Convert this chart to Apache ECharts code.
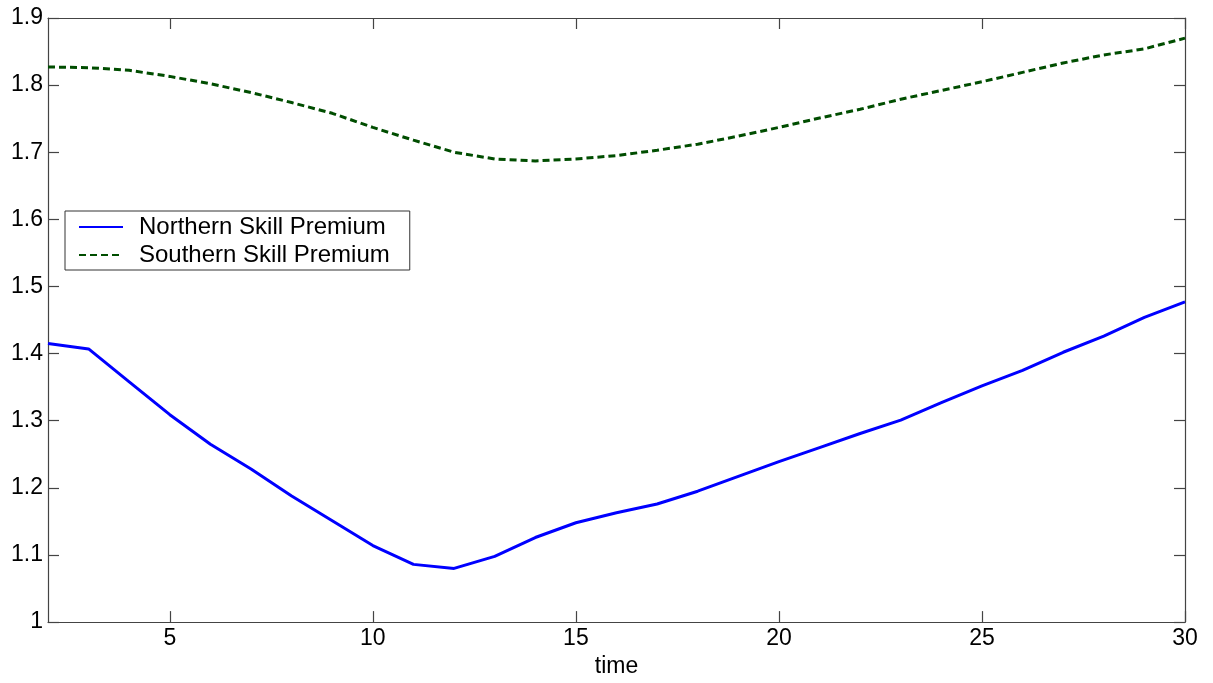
<!DOCTYPE html>
<html><head><meta charset="utf-8">
<script src="https://cdn.jsdelivr.net/npm/echarts@6/dist/echarts.min.js"></script>
<style>html,body{margin:0;padding:0;background:#fff}#c{width:1213px;height:683px}</style>
</head><body><div id="c"></div>
<script>
const times = [2,3,4,5,6,7,8,9,10,11,12,13,14,15,16,17,18,19,20,21,22,23,24,25,26,27,28,29,30];
const northern = [1.415,1.407,1.358,1.309,1.265,1.228,1.188,1.151,1.114,1.086,1.080,1.098,1.126,1.148,1.163,1.176,1.195,1.217,1.239,1.260,1.281,1.301,1.327,1.352,1.375,1.402,1.426,1.454,1.477];
const southern = [1.827,1.826,1.822,1.813,1.802,1.789,1.774,1.758,1.737,1.718,1.700,1.690,1.687,1.690,1.695,1.703,1.712,1.724,1.737,1.751,1.764,1.779,1.792,1.805,1.819,1.833,1.845,1.854,1.870];
const xTicks = [5,10,15,20,25,30];
const seriesNames = ['Northern Skill Premium','Southern Skill Premium'];
const xLabel = 'time';

const font = 'Liberation Sans, Arial, sans-serif';
const axisColor = '#444';
const chart = echarts.init(document.getElementById('c'));
const lineCommon = {show:true, lineStyle:{color:axisColor, width:1.2}};
const tickCommon = {show:true, inside:true, length:11, lineStyle:{color:axisColor, width:1.2}};
chart.setOption({
  animation:false,
  backgroundColor:'#fff',
  grid:{left:48, right:28, top:18, bottom:56, containLabel:false},
  xAxis:[
    {type:'value', min:2, max:30, position:'bottom',
      axisLine:lineCommon,
      axisTick:Object.assign({customValues:xTicks}, tickCommon),
      axisLabel:{show:true, customValues:xTicks, color:'#000', fontSize:23, fontFamily:font, margin:5},
      splitLine:{show:false},
      name:xLabel, nameLocation:'middle', nameGap:31,
      nameTextStyle:{color:'#000', fontSize:23, fontFamily:font}},
    {type:'value', min:2, max:30, position:'top',
      axisLine:lineCommon,
      axisTick:Object.assign({customValues:xTicks}, tickCommon),
      axisLabel:{show:false}, splitLine:{show:false}}
  ],
  yAxis:[
    {type:'value', min:1, max:1.9, interval:0.1, position:'left',
      axisLine:lineCommon, axisTick:tickCommon, splitLine:{show:false},
      axisLabel:{show:true, color:'#000', fontSize:23, fontFamily:font, margin:5,
        formatter:v=>{const r=Math.round(v*10)/10; return r===1?'1':r.toFixed(1);}}},
    {type:'value', min:1, max:1.9, interval:0.1, position:'right',
      axisLine:lineCommon, axisTick:tickCommon, splitLine:{show:false}, axisLabel:{show:false}}
  ],
  legend:{
    orient:'vertical', left:65, top:211, padding:[4,20,3,13], itemGap:4,
    itemWidth:44, itemHeight:24,
    backgroundColor:'#fff', borderColor:'#333', borderWidth:1, borderRadius:0,
    itemStyle:{opacity:0},
    textStyle:{color:'#000', fontSize:24, fontFamily:font, padding:[0,0,0,11]},
    data:seriesNames
  },
  series:[
    {name:seriesNames[0], type:'line', data:times.map((t,i)=>[t,northern[i]]),
      showSymbol:false, symbol:'none', lineStyle:{color:'#0000ff', width:3}, itemStyle:{color:'#0000ff'}},
    {name:seriesNames[1], type:'line', data:times.map((t,i)=>[t,southern[i]]),
      showSymbol:false, symbol:'none', lineStyle:{color:'#004d00', width:3, type:[7,4]}, itemStyle:{color:'#004d00'}}
  ]
});
</script></body></html>
